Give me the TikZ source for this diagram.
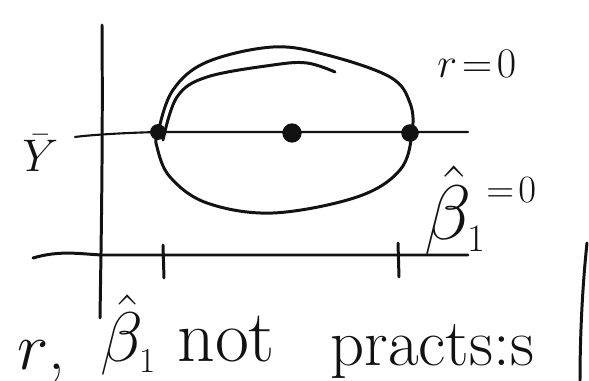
\RequirePackage{fix-cm}
\documentclass[tikz,border=0pt]{standalone}
\usepackage{xcolor}
\definecolor{ink}{RGB}{18,18,18}
\usepackage{tikz}
\usetikzlibrary{positioning}
\tikzset{
  pen/.style={draw=ink, line width=1.7pt, line cap=round, line join=round},
  lightpen/.style={draw=ink, line width=1.2pt, line cap=round},
  dotmark/.style={circle, fill=ink, inner sep=0pt, minimum size=#1},
  hand/.style={text=ink, inner sep=0pt, anchor=base west,
               font=\fontsize{#1}{#1}\selectfont},
}

\begin{document}
\begin{tikzpicture}[x=0.02cm,y=-0.02cm]
\useasboundingbox (0,0) rectangle (589,381);
\draw[pen] (102,25) .. controls (103,150) and (101,250) .. (100,318);
\draw[pen] (33,258) .. controls (60,250) and (80,254) .. (102,255) -- (468,255);
\draw[pen] (163,245) -- (164,278);
\draw[pen] (398,243) -- (399,277);
\draw[lightpen] (75,137) .. controls (90,135) and (120,133) .. (158,132) -- (468,132);
\draw[pen] plot[smooth cycle, tension=0.6] coordinates {
  (158,132) (173,90) (207,62) (273,47) (327,55) (390,77) (410,103)
  (412,133) (400,170) (357,197) (273,213) (207,203) (170,177) (157,147)};
\draw[pen] plot[smooth, tension=0.6] coordinates {
  (163,140) (177,97) (207,77) (273,65) (307,63) (335,72)};
\node[dotmark=9pt] (leftpt) at (158,132) {};
\node[dotmark=11pt] (centerpt) at (292,133) {};
\node[dotmark=10pt] (rightpt) at (410,133) {};
\draw[pen] (587,243) .. controls (582,290) and (580,340) .. (580,381);
\node[hand=26] (ybar) at (22,172) {$\bar{Y}$};
\node[hand=24] (rzero) at (437,78) {$r\!=\!0$};
\node[hand=44] (bhat) at (424,240) {$\hat{\beta}_{\scriptscriptstyle 1}$};
\node[hand=22] (bzero) at (486,203) {$=\!0$};
\node[hand=38] (rlab) at (17,370) {$r$,};
\node[hand=40] (blab) at (100,362) {$\hat{\beta}_{\scriptscriptstyle 1}$};
\node[hand=42] (notlab) at (177,362) {not};
\node[hand=38] (practlab) at (330,366) {practs:s};
\end{tikzpicture}
\end{document}
